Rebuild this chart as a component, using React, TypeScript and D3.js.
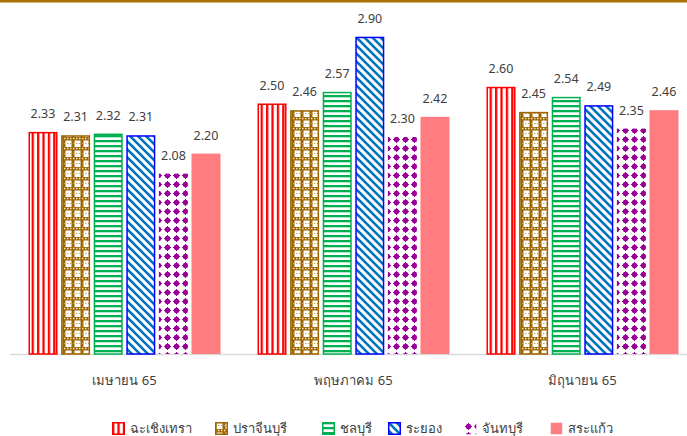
import * as d3 from 'd3'

const categories = ['เมษายน 65', 'พฤษภาคม 65', 'มิถุนายน 65']
const provinces = ['ฉะเชิงเทรา', 'ปราจีนบุรี', 'ชลบุรี', 'ระยอง', 'จันทบุรี', 'สระแก้ว']
const chachoengsao = [2.33, 2.5, 2.6]
const prachinburi = [2.31, 2.46, 2.45]
const chonburi = [2.32, 2.57, 2.54]
const rayong = [2.31, 2.9, 2.49]
const chanthaburi = [2.08, 2.3, 2.35]
const sakaeo = [2.2, 2.42, 2.46]
const seriesValues = [chachoengsao, prachinburi, chonburi, rayong, chanthaburi, sakaeo]
const yDomain = [1, 3]

const W = 687
const H = 436
const FONT = '"Noto Sans", "DejaVu Sans", sans-serif'

// fill + border per series
const fills = ['url(#pRed)', 'url(#pBrown)', 'url(#pGreen)', 'url(#pBlue)', 'url(#pPurple)', '#ff7c80']
const borders = ['#ff0000', '#9c6500', '#00b050', '#0000ff', 'none', 'none']

function Patterns() {
  return (
    <defs>
      <pattern id="pRed" width="5.4" height="5" patternUnits="userSpaceOnUse">
        <rect width="5.4" height="5" fill="#fff" />
        <rect x="0" width="2.3" height="5" fill="#ff0000" />
      </pattern>
      <pattern id="pGreen" width="5" height="5" patternUnits="userSpaceOnUse">
        <rect width="5" height="5" fill="#fff" />
        <rect y="0" width="5" height="2.3" fill="#00b050" />
      </pattern>
      <pattern id="pBlue" width="8" height="8" patternUnits="userSpaceOnUse">
        <rect width="8" height="8" fill="#fff" />
        <path d="M-2,-2 L10,10 M-2,6 L2,10 M6,-2 L10,2" stroke="#0070c0" strokeWidth="2.6" />
      </pattern>
      <pattern id="pBrown" width="9" height="10" patternUnits="userSpaceOnUse">
        <rect width="9" height="10" fill="#9c6500" />
        <rect x="1.5" y="0.5" width="6" height="6.5" fill="#fff" />
        <line x1="0" y1="8.5" x2="9" y2="8.5" stroke="#f3e6c8" strokeWidth="1.3" strokeDasharray="1.5 1.5" />
        <line x1="0" y1="3.5" x2="9" y2="3.5" stroke="#c9a45e" strokeWidth="1" strokeDasharray="1.5 1.5" />
      </pattern>
      <pattern id="pPurple" width="9" height="9" patternUnits="userSpaceOnUse">
        <rect width="9" height="9" fill="#fff" />
        <circle cx="4.5" cy="4.5" r="2.7" fill="#990099" />
        <path d="M4.5,1 V8 M1,4.5 H8" stroke="#990099" strokeWidth="1" />
      </pattern>
    </defs>
  )
}

export default function App() {
  const x0 = d3.scaleBand<string>().domain(categories).range([10, 697])
  const x1 = d3.scaleBand<string>().domain(provinces).range([18.5, x0.bandwidth() - 18.5]).paddingInner(0.11)
  const y = d3.scaleLinear().domain(yDomain).range([354, 20])

  const legendX = [112, 215, 322, 388, 464, 550]

  return (
    <div style={{ position: 'absolute', left: 0, top: 0 }}>
      <svg width={W} height={H} style={{ display: 'block', background: '#fff' }} fontFamily={FONT}>
        <Patterns />
        <rect x={0} y={0} width={W} height={2.5} fill="#a87000" />
        <line x1={10} x2={W} y1={354.5} y2={354.5} stroke="#d9d9d9" strokeWidth={1.5} />
        {categories.map((c, ci) => (
          <g key={c} transform={`translate(${x0(c)},0)`}>
            {provinces.map((p, si) => {
              const v = seriesValues[si][ci]
              const bx = x1(p)!
              const bw = x1.bandwidth()
              const top = y(v)
              const hasBorder = borders[si] !== 'none'
              return (
                <g key={p}>
                  <rect
                    x={bx + (hasBorder ? 0.75 : 0)}
                    y={top + (hasBorder ? 0.75 : 0)}
                    width={bw - (hasBorder ? 1.5 : 0)}
                    height={354 - top - (hasBorder ? 0.75 : 0)}
                    fill={fills[si]}
                    stroke={borders[si]}
                    strokeWidth={hasBorder ? 1.5 : 0}
                  />
                  <text
                    x={bx + bw / 2}
                    y={top - 14}
                    textAnchor="middle"
                    fontSize={12.5}
                    fill="#404040"
                  >
                    {v.toFixed(2)}
                  </text>
                </g>
              )
            })}
            <text x={x0.bandwidth() / 2} y={385} textAnchor="middle" fontSize={13} fill="#404040">
              {c}
            </text>
          </g>
        ))}
        {provinces.map((p, si) => (
          <g key={p} transform={`translate(${legendX[si]},422)`}>
            <rect
              x={0.75}
              y={0.75}
              width={11.5}
              height={11.5}
              fill={fills[si]}
              stroke={borders[si]}
              strokeWidth={borders[si] === 'none' ? 0 : 1.5}
            />
            <text x={18} y={11} fontSize={13} fill="#404040">
              {p}
            </text>
          </g>
        ))}
      </svg>
    </div>
  )
}
